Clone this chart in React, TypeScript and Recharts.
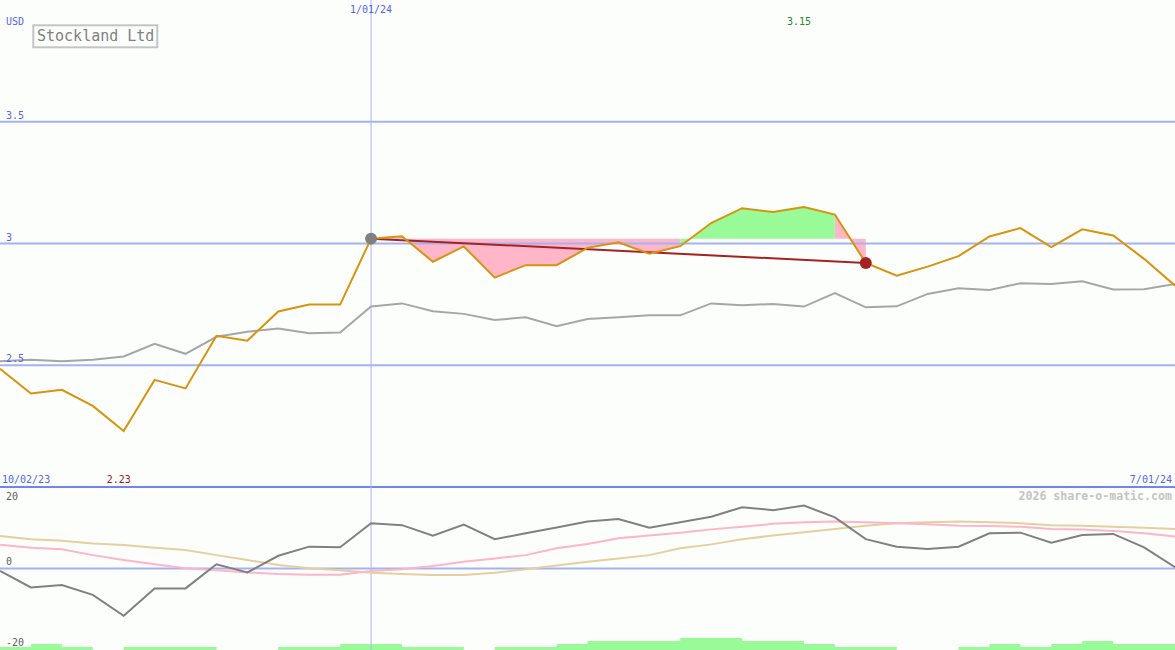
import React from "react";
import {
  ComposedChart,
  Line,
  Area,
  XAxis,
  YAxis,
  ReferenceLine,
  Scatter,
  LabelList,
} from "recharts";

// ---------- data ----------
const title = "Stockland Ltd";
const currency = "USD";
const dateLabels = ["10/02/23", "1/01/24", "7/01/24"];
const markerWeek = 12; // week index of 1/01/24
const watermark = "2026 share-o-matic.com";

const price = [
  2.486, 2.384, 2.399, 2.333, 2.23, 2.44, 2.405, 2.621, 2.601, 2.721, 2.749, 2.749,
  3.02, 3.03, 2.925, 2.988, 2.86, 2.911, 2.911, 2.982, 3.005, 2.958, 2.989, 3.084,
  3.145, 3.129, 3.15, 3.119, 2.92, 2.868, 2.905, 2.948, 3.029, 3.063, 2.985, 3.058,
  3.033, 2.937, 2.827,
];
const movingAvg = [
  2.516, 2.523, 2.516, 2.523, 2.536, 2.588, 2.547, 2.617, 2.638, 2.651, 2.631, 2.634,
  2.741, 2.754, 2.722, 2.711, 2.686, 2.697, 2.66, 2.69, 2.697, 2.705, 2.705, 2.754,
  2.746, 2.752, 2.741, 2.796, 2.738, 2.742, 2.793, 2.816, 2.809, 2.837, 2.834, 2.845,
  2.811, 2.812, 2.834,
];
const momentum = [
  -0.7, -5.8, -5.1, -8.1, -14.5, -6.1, -6.1, 1.3, -1.2, 3.9, 6.7, 6.5, 13.9, 13.3,
  10.1, 13.5, 9.0, 10.8, 12.6, 14.4, 15.2, 12.5, 14.2, 15.9, 18.8, 17.9, 19.3, 15.7,
  9.0, 6.7, 6.0, 6.7, 10.8, 11.0, 7.9, 10.3, 10.6, 6.5, 0.4,
];
const fastSignal = [
  7.3, 6.4, 5.9, 4.1, 2.6, 1.3, 0.1, -0.5, -1.2, -1.7, -1.9, -1.9, -0.8, -0.2, 0.8,
  2.1, 3.1, 4.1, 6.2, 7.5, 9.3, 10.1, 11.0, 12.0, 12.8, 13.7, 14.2, 14.4, 14.2, 13.9,
  13.6, 13.1, 13.0, 12.8, 12.1, 12.0, 11.5, 10.8, 9.8,
];
const slowSignal = [
  10.0, 9.0, 8.5, 7.7, 7.2, 6.4, 5.7, 4.1, 2.6, 1.1, 0.1, -0.5, -1.3, -1.7, -2.0,
  -2.0, -1.3, -0.2, 0.9, 2.1, 3.1, 4.1, 6.2, 7.4, 9.0, 10.1, 11.1, 12.1, 13.1, 13.9,
  14.2, 14.4, 14.2, 13.9, 13.3, 13.1, 12.8, 12.5, 12.1,
];
const volume = [
  1, 2, 1, 0, 1, 1, 1, 0, 0, 1, 1, 2, 2, 1, 1, 0, 1, 1, 2, 3, 3, 3, 4, 4, 3, 3, 2, 1,
  1, 0, 0, 1, 2, 1, 2, 3, 2, 2, 2,
];

const priceTicks = [2.5, 3, 3.5];
const oscTicks = [-20, 0, 20];
const trendStart = 12;
const trendEnd = 28;
const refLevel = 3.02;
const pinkSpans = [
  [12, 22],
  [27, 28],
];
const greenSpans = [[22, 27]];

// ---------- styles ----------
const W = 1175;
const MAIN_H = 487;
const SUB_H = 163;
const BG = "#fcfefc";
const FONT = "'DejaVu Sans Mono', monospace";
const AXIS_BLUE = "#5565ea";
const GRID = "#a4b2f2";

const inSpans = (i: number, spans: number[][]) =>
  spans.some(([a, b]) => i >= a && i <= b);

const maxIdx = price.indexOf(Math.max(...price));
const minIdx = price.indexOf(Math.min(...price));

const rows = price.map((p, i) => ({
  i,
  price: p,
  ma: movingAvg[i],
  trend: i === trendStart || i === trendEnd ? price[i] : null,
  pink: inSpans(i, pinkSpans) ? [p, refLevel] : null,
  green: inSpans(i, greenSpans) ? [refLevel, p] : null,
  hi: i === maxIdx ? p.toFixed(2) : null,
  lo: i === minIdx ? p.toFixed(2) : null,
  mom: momentum[i],
  fast: fastSignal[i],
  slow: slowSignal[i],
  vol: volume[i],
}));

const startPoint = [{ i: trendStart, price: price[trendStart] }];
const endPoint = [{ i: trendEnd, price: price[trendEnd] }];

const PriceTick = (props: any) => {
  const { y, payload } = props;
  return (
    <text x={6} y={y - 3} fill={AXIS_BLUE} fontSize={10} fontFamily={FONT}>
      {String(payload.value)}
    </text>
  );
};

const OscTick = (props: any) => {
  const { y, payload } = props;
  const v = payload.value;
  return (
    <text
      x={6}
      y={v === -20 ? y + 12 : y - 3.5}
      fill="#606060"
      fontSize={10}
      fontFamily={FONT}
    >
      {String(v)}
    </text>
  );
};

const HiLabel = (props: any) => {
  const { x, value } = props;
  if (value == null) return null;
  return (
    <text x={x - 5} y={25} textAnchor="middle" fill="#228b22" fontSize={10} fontFamily={FONT}>
      {value}
    </text>
  );
};

const LoLabel = (props: any) => {
  const { x, value } = props;
  if (value == null) return null;
  return (
    <text x={x - 5} y={483} textAnchor="middle" fill="#a01818" fontSize={10} fontFamily={FONT}>
      {value}
    </text>
  );
};

const DateMarkerLabel = (props: any) => {
  const vb = props.viewBox || {};
  return (
    <text x={vb.x} y={13} textAnchor="middle" fill={AXIS_BLUE} fontSize={10} fontFamily={FONT}>
      {dateLabels[1]}
    </text>
  );
};

const dotShape = (color: string) => (props: any) => (
  <circle cx={props.cx} cy={props.cy} r={6} fill={color} />
);

export default function App() {
  return (
    <div
      style={{
        position: "absolute",
        left: 0,
        top: 0,
        width: W,
        height: MAIN_H + SUB_H,
        background: BG,
        overflow: "hidden",
      }}
    >
      <div style={{ position: "absolute", left: 0, top: 0 }}>
        <ComposedChart
          width={W}
          height={MAIN_H}
          data={rows}
          margin={{ top: 0, right: 0, bottom: 0, left: 0 }}
        >
          <XAxis dataKey="i" type="number" domain={[0, 38]} hide allowDataOverflow />
          <YAxis
            domain={[2, 4]}
            ticks={priceTicks}
            mirror
            axisLine={false}
            tickLine={false}
            tick={PriceTick}
            interval={0}
            allowDataOverflow
          />
          {priceTicks.map((t) => (
            <ReferenceLine key={t} y={t} stroke={GRID} strokeWidth={2} />
          ))}
          <ReferenceLine y={2} stroke="#7384ec" strokeWidth={2} />
          <ReferenceLine
            x={markerWeek}
            stroke="#aab6f4"
            strokeWidth={1}
            label={<DateMarkerLabel />}
          />
          <Area
            dataKey="pink"
            type="linear"
            stroke="none"
            fill="#ffb6c8"
            fillOpacity={1}
            isAnimationActive={false}
            connectNulls={false}
            dot={false}
            activeDot={false}
          />
          <Area
            dataKey="green"
            type="linear"
            stroke="none"
            fill="#98fb98"
            fillOpacity={1}
            isAnimationActive={false}
            connectNulls={false}
            dot={false}
            activeDot={false}
          />
          <Line
            dataKey="ma"
            type="linear"
            stroke="#a6a6a6"
            strokeWidth={2}
            dot={false}
            activeDot={false}
            isAnimationActive={false}
          />
          <Scatter
            data={startPoint}
            dataKey="price"
            shape={dotShape("#808080")}
            activeShape={dotShape("#808080")}
            isAnimationActive={false}
          />
          <Scatter
            data={endPoint}
            dataKey="price"
            shape={dotShape("#a52222")}
            activeShape={dotShape("#a52222")}
            isAnimationActive={false}
          />
          <Line
            dataKey="trend"
            type="linear"
            stroke="#a52222"
            strokeWidth={2}
            dot={false}
            activeDot={false}
            connectNulls
            isAnimationActive={false}
          />
          <Line
            dataKey="price"
            type="linear"
            stroke="#d8930c"
            strokeWidth={2}
            dot={false}
            activeDot={false}
            isAnimationActive={false}
          >
            <LabelList dataKey="hi" content={<HiLabel />} />
            <LabelList dataKey="lo" content={<LoLabel />} />
          </Line>
        </ComposedChart>
      </div>

      <div style={{ position: "absolute", left: 0, top: MAIN_H }}>
        <ComposedChart
          width={W}
          height={SUB_H}
          data={rows}
          margin={{ top: 0, right: 0, bottom: 0, left: 0 }}
        >
          <XAxis dataKey="i" type="number" domain={[0, 38]} hide allowDataOverflow />
          <YAxis
            yAxisId="osc"
            domain={[-25, 25]}
            ticks={oscTicks}
            mirror
            axisLine={false}
            tickLine={false}
            tick={OscTick}
            interval={0}
            allowDataOverflow
          />
          <YAxis yAxisId="vol" domain={[0, SUB_H / 3]} hide allowDataOverflow />
          <ReferenceLine yAxisId="osc" y={0} stroke={GRID} strokeWidth={2} />
          <ReferenceLine yAxisId="osc" y={25} stroke="#7384ec" strokeWidth={2} />
          <ReferenceLine yAxisId="osc" x={markerWeek} stroke="#aab6f4" strokeWidth={1} />
          <Area
            yAxisId="vol"
            dataKey="vol"
            type="stepAfter"
            stroke="none"
            fill="#98fb98"
            fillOpacity={1}
            isAnimationActive={false}
            dot={false}
            activeDot={false}
          />
          <Line
            yAxisId="osc"
            dataKey="slow"
            type="linear"
            stroke="#e6cf9f"
            strokeWidth={2}
            dot={false}
            activeDot={false}
            isAnimationActive={false}
          />
          <Line
            yAxisId="osc"
            dataKey="fast"
            type="linear"
            stroke="#ffb4c8"
            strokeWidth={2}
            dot={false}
            activeDot={false}
            isAnimationActive={false}
          />
          <Line
            yAxisId="osc"
            dataKey="mom"
            type="linear"
            stroke="#808080"
            strokeWidth={2}
            dot={false}
            activeDot={false}
            isAnimationActive={false}
          />
        </ComposedChart>
      </div>

      <svg
        width={W}
        height={MAIN_H + SUB_H}
        style={{ position: "absolute", left: 0, top: 0, pointerEvents: "none" }}
      >
        <text x={6} y={25} fill={AXIS_BLUE} fontSize={10} fontFamily={FONT}>
          {currency}
        </text>
        <rect x={33.3} y={25.3} width={124} height={22} fill="none" stroke="#c4c4c4" strokeWidth={2} />
        <text x={37} y={41} fill="#808080" fontSize={15} fontFamily={FONT}>
          {title}
        </text>
        <text x={2} y={483} fill={AXIS_BLUE} fontSize={10} fontFamily={FONT}>
          {dateLabels[0]}
        </text>
        <text x={1172} y={483} textAnchor="end" fill={AXIS_BLUE} fontSize={10} fontFamily={FONT}>
          {dateLabels[2]}
        </text>
        <text
          x={1172}
          y={500}
          textAnchor="end"
          fill="#c4c4c4"
          fontSize={11.6}
          fontWeight="bold"
          fontFamily={FONT}
        >
          {watermark}
        </text>
      </svg>
    </div>
  );
}
